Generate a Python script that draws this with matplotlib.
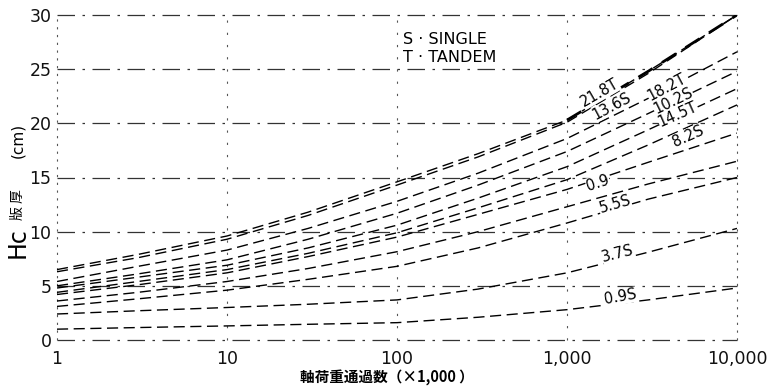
import matplotlib
matplotlib.use("Agg")
import matplotlib.pyplot as plt
import numpy as np

# ---- data ----
passes = [1, 3, 10, 30, 100, 300, 1000, 3000, 10000]   # x 1,000 axle passes
curve_names = ["21.8T", "13.6S", "18.2T", "10.2S", "14.5T", "8.2S",
               "10.9T", "5.5S", "unlabelled", "3.7S", "0.9S"]
hc_218T = [6.5, 7.9, 9.6, 11.8, 14.6, 17.2, 20.3, 24.8, 30.0]
hc_136S = [6.3, 7.6, 9.3, 11.5, 14.3, 16.9, 20.1, 24.6, 30.0]
hc_182T = [5.4, 6.8, 8.3, 10.3, 12.8, 15.4, 18.6, 22.3, 26.6]
hc_102S = [5.0, 6.1, 7.4, 9.3, 11.7, 14.3, 17.4, 20.9, 24.8]
hc_145T = [4.8, 5.8, 6.9, 8.5, 10.6, 13.1, 16.0, 19.4, 23.2]
hc_82S = [4.4, 5.4, 6.5, 8.0, 9.9, 12.2, 14.8, 18.0, 21.7]
hc_109T = [4.2, 5.1, 6.2, 7.7, 9.5, 11.6, 13.9, 16.4, 19.1]
hc_55S = [3.6, 4.4, 5.4, 6.6, 8.15, 10.0, 12.3, 14.4, 16.5]
hc_x = [3.1, 3.8, 4.6, 5.6, 6.8, 8.5, 10.8, 13.0, 15.0]
hc_37S = [2.4, 2.7, 3.0, 3.3, 3.7, 4.7, 6.2, 8.1, 10.3]
hc_09S = [1.0, 1.15, 1.3, 1.45, 1.6, 2.1, 2.8, 3.7, 4.8]
curves = [hc_218T, hc_136S, hc_182T, hc_102S, hc_145T, hc_82S,
          hc_109T, hc_55S, hc_x, hc_37S, hc_09S]

# inline curve labels: text, x, y (data units), rotation
label_texts = ["21.8T", "13.6S", "18.2T", "10.2S", "14.5T", "8.2S",
               "0.9", "5.5S", "3.7S", "0.9S"]
label_x = [1560, 1840, 3870, 4200, 4500, 5150, 1520, 1915, 1995, 2050]
label_y = [22.8, 21.6, 23.3, 22.1, 20.8, 18.8, 14.5, 12.5, 8.0, 3.97]
label_rot = [30, 28, 28, 26, 24, 24, 18, 16, 14, 10]

xticks = [1, 10, 100, 1000, 10000]
xticklabels = ["1", "10", "100", "1,000", "10,000"]
yticks = [0, 5, 10, 15, 20, 25, 30]

# ---- figure ----
W, H = 770, 389
fig = plt.figure(figsize=(W / 100, H / 100), dpi=100)
ax = fig.add_axes([57 / W, 1 - 340 / H, (737 - 57) / W, (340 - 15) / H])
ax.set_xscale("log")
ax.set_xlim(1, 10000)
ax.set_ylim(0, 30)

hgrid_kw = dict(color="#333333", lw=0.9, linestyle=(0, (14, 6, 2, 6)), clip_on=False, zorder=1)
for yv in yticks:
    ax.axhline(yv, **hgrid_kw)
for xv in xticks:
    ax.axvline(xv, color="#555555", lw=0.8, clip_on=False, zorder=1,
               linestyle=(0, (2, 5)) if xv in (1, 10000) else (0, (2, 9)))

for i, c in enumerate(curves):
    ax.plot(passes, c, color="black", lw=1.0, linestyle=(0, (8, 4)), zorder=3)
# heavier dashed continuation of the top curve
ax.plot(passes[6:], hc_218T[6:], color="black", lw=2.0, linestyle=(0, (6, 4)), zorder=3)

for t, lx, ly, r in zip(label_texts, label_x, label_y, label_rot):
    ax.text(lx, ly, t, fontsize=10.5, rotation=r, ha="center", va="center",
            color="black", zorder=4,
            bbox=dict(facecolor="white", edgecolor="none", pad=0.2))

for s in ax.spines.values():
    s.set_visible(False)
ax.set_xticks(xticks)
ax.set_xticklabels(xticklabels)
ax.set_yticks(yticks)
ax.minorticks_off()
ax.tick_params(axis="both", length=0, labelsize=12.5, colors="#111111")
ax.tick_params(axis="y", pad=4)
ax.tick_params(axis="x", pad=7)

leg_kw = dict(fontsize=11.5, ha="left", va="center",
              bbox=dict(facecolor="white", edgecolor="none", pad=0.5))
fig.text(403 / W, 1 - 40 / H, "S · SINGLE", **leg_kw)
fig.text(403 / W, 1 - 58 / H, "T · TANDEM", **leg_kw)

cjk = ["Noto Sans CJK JP", "DejaVu Sans"]
fig.text(18 / W, 1 - 243 / H, "Hc", fontsize=17, rotation=90, ha="center", va="center")
fig.text(18 / W, 1 - 205 / H, "版 厚", fontsize=10, rotation=90, ha="center", va="center", family=cjk)
fig.text(18 / W, 1 - 140 / H, "(cm)", fontsize=11, rotation=90, ha="center", va="center")
fig.text(387 / W, 1 - 377 / H, "軸荷重通過数（×1,000 ）", fontsize=10.5, fontweight="bold",
         ha="center", va="center", family=cjk)

fig.savefig("out.png", dpi=100)
